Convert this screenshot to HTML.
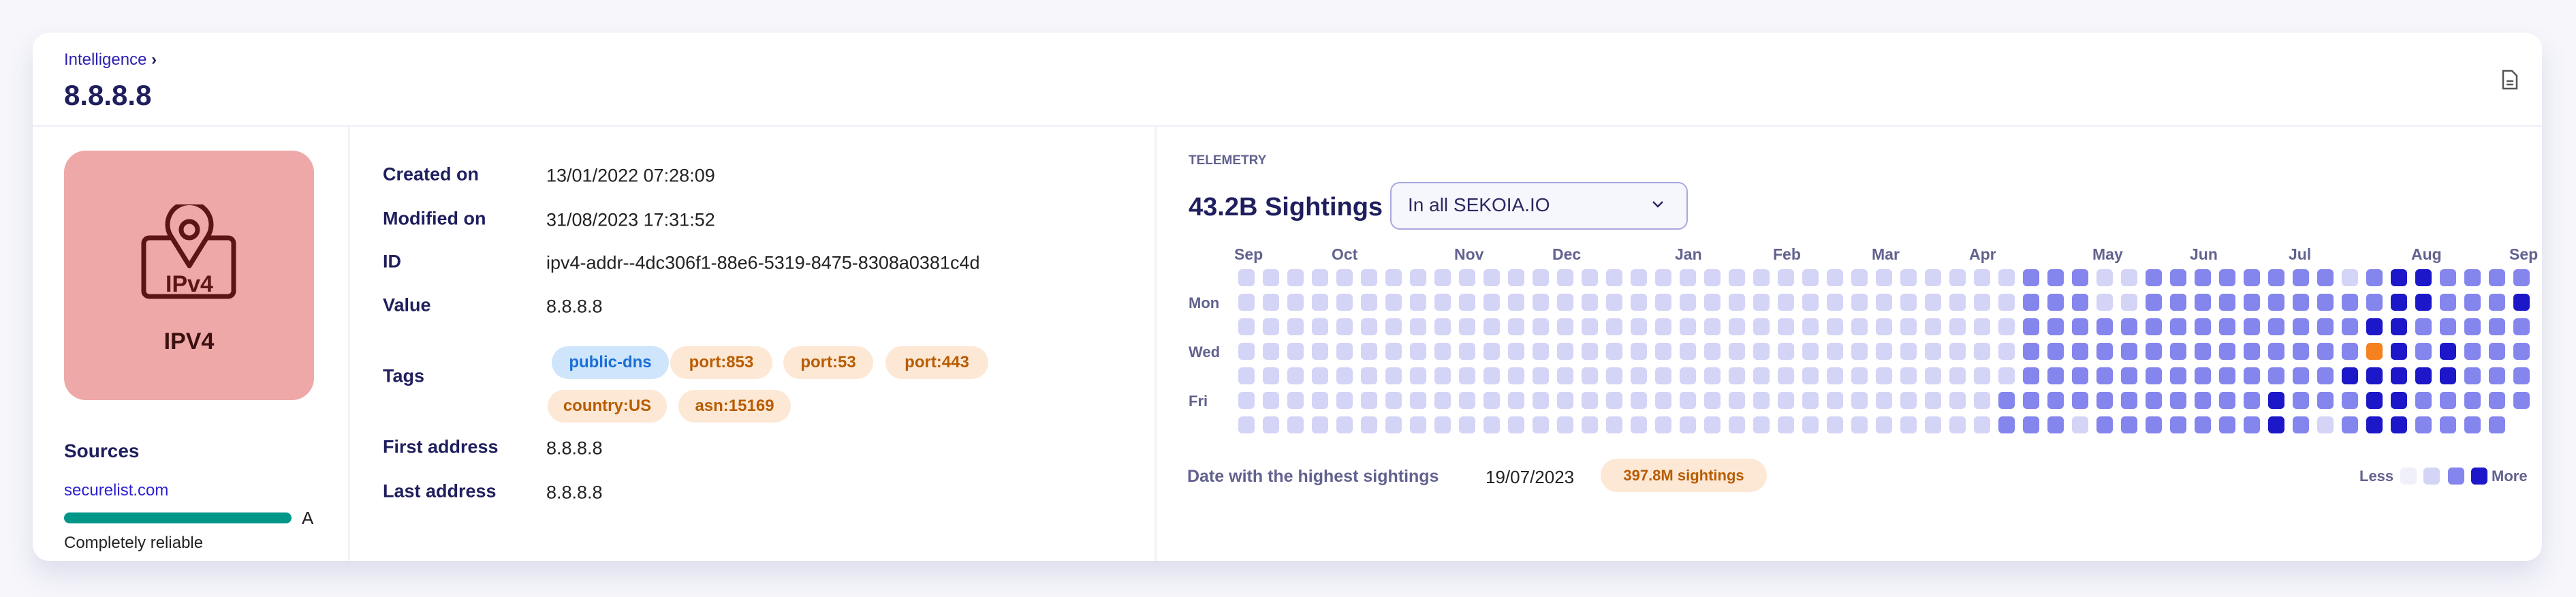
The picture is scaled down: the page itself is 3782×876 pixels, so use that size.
<!DOCTYPE html>
<html><head><meta charset="utf-8"><style>
*{margin:0;padding:0;box-sizing:border-box}
body{width:3782px;height:876px;background:#f6f6fb;font-family:"Liberation Sans",sans-serif;position:relative;overflow:hidden}
.card{position:absolute;left:48px;top:48px;width:3684px;height:775px;background:#fff;border-radius:24px;box-shadow:0 20px 40px rgba(60,60,140,.13)}
.a{position:absolute;white-space:nowrap}
.lab{position:absolute;left:562px;font-size:27px;font-weight:bold;color:#1f1f5e;transform:translateY(-50%)}
.val{position:absolute;left:802px;font-size:27px;color:#222;transform:translateY(-50%)}
.tag{position:absolute;height:48px;border-radius:24px;font-size:24px;font-weight:bold;line-height:48px;text-align:center;background:#fde8d6;color:#b85c00}
.mo{position:absolute;top:360px;font-size:23px;font-weight:bold;color:#62628f}
.dy{position:absolute;left:1745px;font-size:22px;font-weight:bold;color:#62628f;transform:translateY(-50%)}
</style></head><body>
<div class="card"></div>
<div class="a" style="left:94px;top:74px;font-size:24px;color:#2a1fb0">Intelligence <b style="color:#1f1f5e">›</b></div>
<div class="a" style="left:94px;top:116px;font-size:42px;font-weight:bold;color:#1f1f5e">8.8.8.8</div>
<svg class="a" style="left:3672px;top:102px" width="26" height="30" viewBox="0 0 26 30"><path d="M3 2h13l7 7v19H3z" fill="none" stroke="#555" stroke-width="2.5"/><path d="M8 17h10M8 22h10" stroke="#555" stroke-width="2.5"/></svg>
<div class="a" style="left:48px;top:183px;width:3684px;height:3px;background:#f2f2f8"></div>
<div class="a" style="left:511px;top:186px;width:3px;height:637px;background:#f2f2f8"></div>
<div class="a" style="left:1695px;top:186px;width:3px;height:637px;background:#f2f2f8"></div>
<div class="a" style="left:94px;top:221px;width:367px;height:366px;background:#eea8a8;border-radius:32px"></div>
<svg class="a" style="left:200px;top:300px" width="156" height="145" viewBox="0 0 156 145">
<rect x="11" y="49" width="132" height="86" rx="8" fill="none" stroke="#5c1414" stroke-width="7"/>
<path d="M78 90 L50 45 A32 32 0 1 1 106 45 Z" fill="#eea8a8" stroke="#5c1414" stroke-width="7" stroke-linejoin="round"/>
<circle cx="78" cy="37" r="12" fill="none" stroke="#5c1414" stroke-width="7"/>
<text x="78" y="128" text-anchor="middle" font-family="Liberation Sans" font-weight="bold" font-size="34" fill="#5c1414">IPv4</text></svg>
<div class="a" style="left:94px;top:482px;width:367px;text-align:center;font-size:34px;font-weight:bold;color:#3a1010">IPV4</div>
<div class="a" style="left:94px;top:646px;font-size:28px;font-weight:bold;color:#1f1f5e">Sources</div>
<div class="a" style="left:94px;top:706px;font-size:24px;color:#2a1fd0">securelist.com</div>
<div class="a" style="left:94px;top:752px;width:334px;height:16px;border-radius:8px;background:#009688"></div>
<div class="a" style="left:443px;top:745px;font-size:26px;color:#222">A</div>
<div class="a" style="left:94px;top:783px;font-size:24px;color:#222">Completely reliable</div>
<div class="lab" style="top:256px">Created on</div><div class="val" style="top:258px">13/01/2022 07:28:09</div>
<div class="lab" style="top:321px">Modified on</div><div class="val" style="top:323px">31/08/2023 17:31:52</div>
<div class="lab" style="top:384px">ID</div><div class="val" style="top:386px">ipv4-addr--4dc306f1-88e6-5319-8475-8308a0381c4d</div>
<div class="lab" style="top:448px">Value</div><div class="val" style="top:450px">8.8.8.8</div>
<div class="lab" style="top:552px">Tags</div>
<div class="tag" style="left:810px;top:508px;width:172px;background:#cfe5fb;color:#1a6fd6">public-dns</div>
<div class="tag" style="left:984px;top:508px;width:150px">port:853</div>
<div class="tag" style="left:1150px;top:508px;width:132px">port:53</div>
<div class="tag" style="left:1300px;top:508px;width:151px">port:443</div>
<div class="tag" style="left:804px;top:572px;width:175px">country:US</div>
<div class="tag" style="left:996px;top:572px;width:165px">asn:15169</div>
<div class="lab" style="top:656px">First address</div><div class="val" style="top:658px">8.8.8.8</div>
<div class="lab" style="top:721px">Last address</div><div class="val" style="top:723px">8.8.8.8</div>
<div class="a" style="left:1745px;top:225px;font-size:19px;font-weight:bold;color:#62628f">TELEMETRY</div>
<div class="a" style="left:1745px;top:283px;font-size:38px;font-weight:bold;color:#1f1f5e">43.2B Sightings</div>
<div class="a" style="left:2041px;top:267px;width:437px;height:70px;background:#f6f6fd;border:2px solid #a8a8e0;border-radius:14px"></div>
<div class="a" style="left:2067px;top:285px;font-size:28px;color:#2a2a60">In all SEKOIA.IO</div>
<svg class="a" style="left:2425px;top:294px" width="18" height="12"><path d="M2 2l7 7 7-7" fill="none" stroke="#2a2a60" stroke-width="2.5"/></svg>
<div class="mo" style="left:1812px">Sep</div><div class="mo" style="left:1955px">Oct</div><div class="mo" style="left:2135px">Nov</div><div class="mo" style="left:2279px">Dec</div><div class="mo" style="left:2459px">Jan</div><div class="mo" style="left:2603px">Feb</div><div class="mo" style="left:2748px">Mar</div><div class="mo" style="left:2891px">Apr</div><div class="mo" style="left:3072px">May</div><div class="mo" style="left:3215px">Jun</div><div class="mo" style="left:3360px">Jul</div><div class="mo" style="left:3540px">Aug</div><div class="mo" style="left:3684px">Sep</div>
<div class="dy" style="top:445px">Mon</div><div class="dy" style="top:517px">Wed</div><div class="dy" style="top:589px">Fri</div>
<svg class="a" style="left:0;top:0" width="3782" height="876">
<defs>
<pattern id="pL" patternUnits="userSpaceOnUse" x="1818" y="395" width="36" height="36"><rect width="24" height="25" rx="6" fill="#d4d4f7"/></pattern>
<pattern id="pM" patternUnits="userSpaceOnUse" x="1818" y="395" width="36" height="36"><rect width="24" height="25" rx="6" fill="#8585ee"/></pattern>
<pattern id="pD" patternUnits="userSpaceOnUse" x="1818" y="395" width="36" height="36"><rect width="24" height="25" rx="6" fill="#1c17c8"/></pattern>
</defs>
<rect x="1818" y="395" width="1896" height="205" fill="url(#pL)"/>
<rect x="1818" y="611" width="1860" height="25" fill="url(#pL)"/>
<g fill="url(#pM)">
<rect x="2970" y="395" width="96" height="25"/><rect x="3150" y="395" width="276" height="25"/><rect x="3474" y="395" width="24" height="25"/><rect x="3582" y="395" width="132" height="25"/>
<rect x="2970" y="431" width="96" height="25"/><rect x="3150" y="431" width="348" height="25"/><rect x="3582" y="431" width="96" height="25"/>
<rect x="2970" y="467" width="492" height="25"/><rect x="3546" y="467" width="168" height="25"/>
<rect x="2970" y="503" width="492" height="25"/><rect x="3546" y="503" width="24" height="25"/><rect x="3618" y="503" width="96" height="25"/>
<rect x="2970" y="539" width="456" height="25"/><rect x="3618" y="539" width="96" height="25"/>
<rect x="2934" y="575" width="384" height="25"/><rect x="3366" y="575" width="96" height="25"/><rect x="3546" y="575" width="168" height="25"/>
<rect x="2934" y="611" width="96" height="25"/><rect x="3078" y="611" width="240" height="25"/><rect x="3366" y="611" width="24" height="25"/><rect x="3438" y="611" width="24" height="25"/><rect x="3546" y="611" width="132" height="25"/>
</g>
<g fill="url(#pD)">
<rect x="3510" y="395" width="60" height="25"/>
<rect x="3510" y="431" width="60" height="25"/><rect x="3690" y="431" width="24" height="25"/>
<rect x="3474" y="467" width="60" height="25"/>
<rect x="3510" y="503" width="24" height="25"/><rect x="3582" y="503" width="24" height="25"/>
<rect x="3438" y="539" width="168" height="25"/>
<rect x="3330" y="575" width="24" height="25"/><rect x="3474" y="575" width="60" height="25"/>
<rect x="3330" y="611" width="24" height="25"/><rect x="3474" y="611" width="60" height="25"/>
</g>
<rect x="3474" y="503" width="24" height="25" rx="6" fill="#f5821f"/>
<rect x="3524" y="686" width="24" height="25" rx="6" fill="#f0f0fb"/>
<rect x="3558" y="686" width="24" height="25" rx="6" fill="#d4d4f7"/>
<rect x="3594" y="686" width="24" height="25" rx="6" fill="#8585ee"/>
<rect x="3628" y="686" width="24" height="25" rx="6" fill="#1c17c8"/>
</svg>
<div class="a" style="left:1743px;top:685px;font-size:25px;font-weight:bold;color:#62628f">Date with the highest sightings</div>
<div class="a" style="left:2181px;top:685px;font-size:26px;color:#222">19/07/2023</div>
<div class="a" style="left:2350px;top:673px;width:244px;height:49px;border-radius:25px;background:#fde8d6;color:#b85c00;font-size:22px;font-weight:bold;line-height:49px;text-align:center">397.8M sightings</div>
<div class="a" style="left:3464px;top:686px;font-size:22px;font-weight:bold;color:#62628f">Less</div>
<div class="a" style="left:3658px;top:686px;font-size:22px;font-weight:bold;color:#62628f">More</div>
</body></html>
